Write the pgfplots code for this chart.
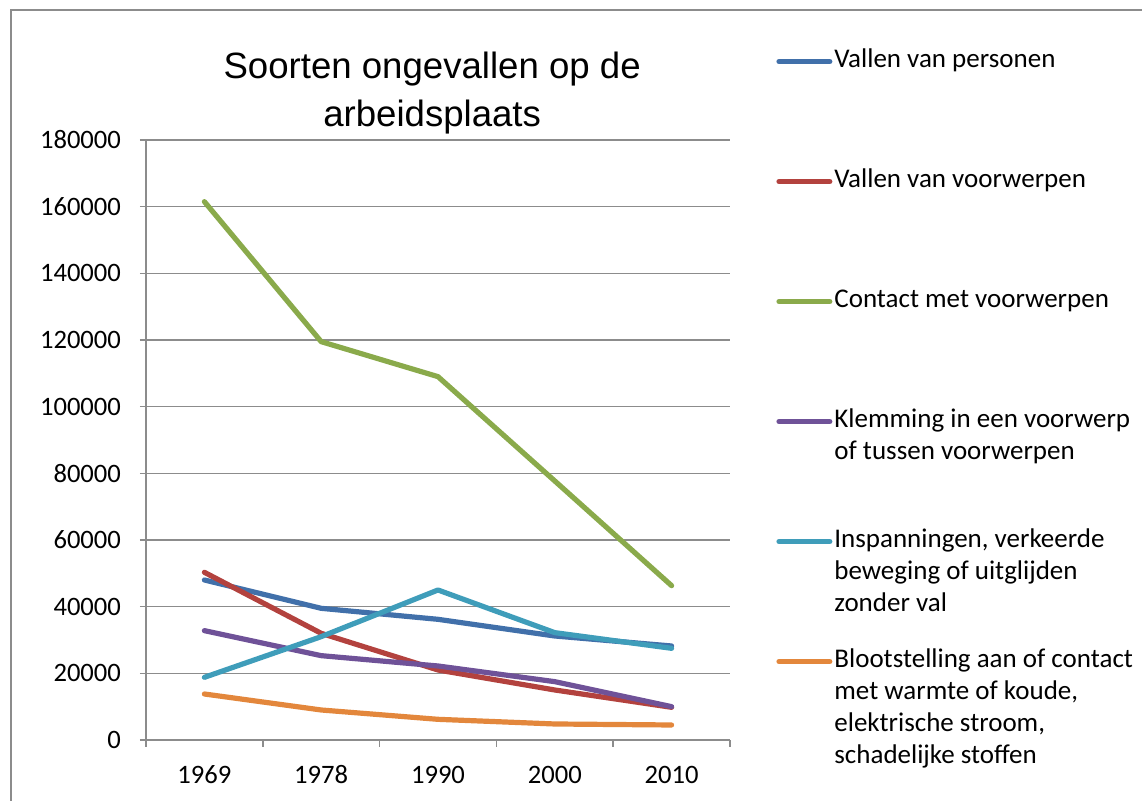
\documentclass[border=0pt]{standalone}
\usepackage{fontspec}
\setmainfont{Carlito}[Numbers={Monospaced,Lining}]
\newfontfamily\titlefont{Liberation Sans}
\usepackage{pgfplots}
\pgfplotsset{compat=1.18}
\definecolor{cblue}{HTML}{4170AA}
\definecolor{cred}{HTML}{B3423E}
\definecolor{cgreen}{HTML}{8AAA4B}
\definecolor{cpurple}{HTML}{6F5298}
\definecolor{cteal}{HTML}{3F9DBA}
\definecolor{corange}{HTML}{E3873C}
\definecolor{gridgray}{HTML}{8C8C8C}
\newcommand\leg[1]{\rule[-51pt]{0pt}{60pt}\smash{\begin{tabular}[t]{@{}l@{}}#1\end{tabular}}}
\begin{document}
\begin{tikzpicture}
\begin{axis}[name=ax, at={(0,0)}, anchor=south west,
  scale only axis, width=292pt, height=300pt,
  xmin=-0.5, xmax=4.5, ymin=0, ymax=180000,
  xtick={0,1,2,3,4}, xticklabels={1969,1978,1990,2000,2010},
  minor xtick={-0.5,0.5,1.5,2.5,3.5,4.5},
  ytick={0,20000,40000,60000,80000,100000,120000,140000,160000,180000},
  yticklabels={0,20000,40000,60000,80000,100000,120000,140000,160000,180000},
  scaled y ticks=false,
  yticklabel style={xshift=-6pt},
  axis x line*=bottom, axis y line*=left,
  axis line style={draw=gridgray, line width=0.8pt},
  ymajorgrids, grid style={draw=gridgray, line width=0.8pt},
  tick align=outside,
  major tick length=3pt, minor tick length=3.5pt,
  major x tick style={draw=none},
  minor x tick style={draw=gridgray, line width=0.8pt},
  major y tick style={draw=gridgray, line width=0.8pt},
  tick label style={font=\fontsize{13.3}{15}\selectfont},
  xticklabel style={anchor=base, yshift=-19pt},
  title={Soorten ongevallen op de\\arbeidsplaats},
  title style={font=\titlefont\fontsize{18.3}{24}\selectfont, align=center,
    at={(0.49,1)}, anchor=south, inner sep=0pt, yshift=-3.5pt},
  legend style={at={(1.0788,1.152)}, anchor=north west, draw=none, fill=none,
    font=\fontsize{13.5}{16}\selectfont, row sep=0pt, column sep=1pt, inner sep=0pt,
    nodes={inner sep=0pt, text depth=}, cells={anchor=base west}},
  legend image code/.code={\draw[#1] (1.3pt,0.28em) -- (26.7pt,0.28em);},
  every axis plot/.append style={line width=2.6pt, line join=round, line cap=round, mark=none},
]
\addplot[cblue] coordinates {(0,48000) (1,39500) (2,36200) (3,31200) (4,28200)};
\addlegendentry{\leg{Vallen van personen}}
\addplot[cred] coordinates {(0,50300) (1,32000) (2,21000) (3,15000) (4,9800)};
\addlegendentry{\leg{Vallen van voorwerpen}}
\addplot[cgreen] coordinates {(0,161500) (1,119500) (2,109000) (3,77700) (4,46300)};
\addlegendentry{\leg{Contact met voorwerpen}}
\addplot[cpurple] coordinates {(0,32800) (1,25300) (2,22200) (3,17500) (4,10000)};
\addlegendentry{\leg{Klemming in een voorwerp\\of tussen voorwerpen}}
\addplot[cteal] coordinates {(0,18800) (1,31000) (2,45000) (3,32200) (4,27500)};
\addlegendentry{\leg{Inspanningen, verkeerde\\beweging of uitglijden\\zonder val}}
\addplot[corange] coordinates {(0,13800) (1,9000) (2,6200) (3,4800) (4,4500)};
\addlegendentry{\leg{Blootstelling aan of contact\\met warmte of koude,\\elektrische stroom,\\schadelijke stoffen}}
\end{axis}
\pgfresetboundingbox
\draw[gridgray, line width=1pt] ([shift={(-67.5pt,-40pt)}]ax.south west) -- ([shift={(-67.5pt,365pt)}]ax.south west) -- ([shift={(520pt,365pt)}]ax.south west);
\pgfresetboundingbox
\useasboundingbox ([shift={(-73pt,-30.5pt)}]ax.south west) rectangle ++(571pt,400.5pt);
\end{tikzpicture}
\end{document}
